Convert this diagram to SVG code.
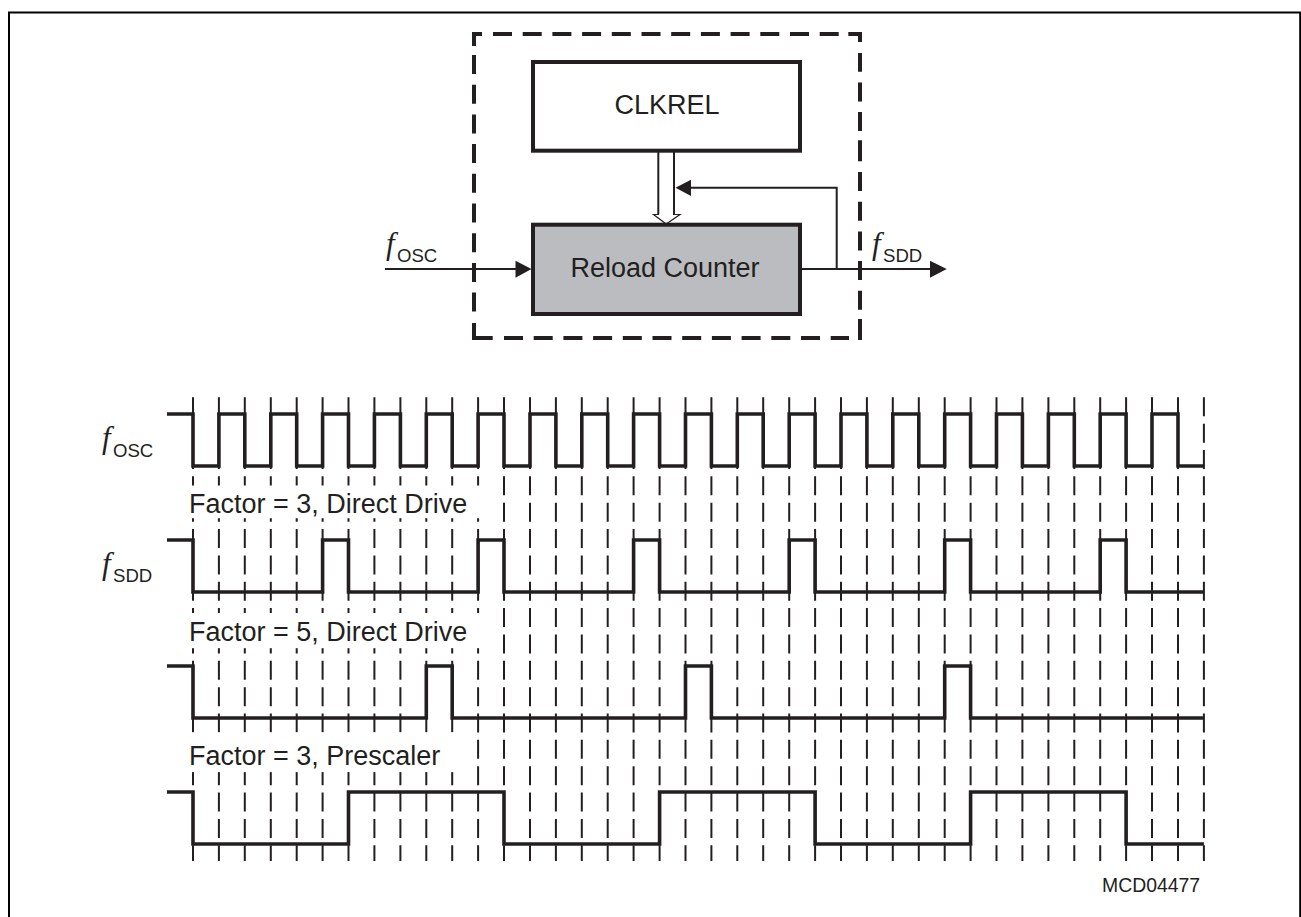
<svg xmlns="http://www.w3.org/2000/svg" width="1301" height="917" viewBox="0 0 1301 917">
<style>
text{font-family:"Liberation Sans",Arial,sans-serif;fill:#231f20}
.lbl{font-size:27px}
.sub{font-size:18.6px}
.f{font-family:"Liberation Serif","Times New Roman",serif;font-style:italic;font-size:31px}
.box{stroke:#231f20;stroke-width:4;fill:#fff}
.dash{fill:none;stroke:#231f20;stroke-width:4}
.wire{fill:none;stroke:#231f20;stroke-width:2}
.head{fill:#231f20;stroke:none}
.wave{fill:none;stroke:#231f20;stroke-width:3.6;stroke-linejoin:miter}
.grid{fill:none;stroke:#231f20;stroke-width:2;stroke-dasharray:19 7.35}
</style>
<rect width="1301" height="917" fill="#fff"/>
<path id="frame" d="M9,917V12.4H1300.2V917" fill="none" stroke="#000" stroke-width="2"/>
<g id="boundary">
<path class="dash" d="M474,46V34H482"/>
<path class="dash" stroke-dasharray="19 10.7" d="M493,34H839"/>
<path class="dash" d="M848.3,34H860V42"/>
<path class="dash" stroke-dasharray="19 10.7" d="M474,55V312"/>
<path class="dash" d="M474,323V338H492.7"/>
<path class="dash" stroke-dasharray="19 10.7" d="M504,338H849"/>
<path class="dash" stroke-dasharray="21 9.2 19 10.7 19 10.7 19 10.7 19 10.7 19 10.7" d="M860,340V53"/>
</g>
<g id="clkrel">
<rect class="box" x="533" y="62" width="267" height="88.7"/>
<text class="lbl" x="667" y="114" text-anchor="middle">CLKREL</text>
</g>
<g id="reload-counter">
<rect class="box" style="fill:#bbbcbf" x="533" y="224.7" width="267" height="89.3"/>
<text class="lbl" x="665" y="277" text-anchor="middle">Reload Counter</text>
</g>
<g id="connectors">
<path class="wire" d="M658.3,152V214.5"/>
<path class="wire" d="M674,152V214.5"/>
<path class="wire" style="stroke-width:1.2" d="M659,214.5H653.5L666.2,224L680,214.5H673"/>
<path class="wire" d="M690,187.7H836.7V269"/>
<path class="head" d="M675.5,187.7L691,179.8V196Z"/>
<path class="wire" d="M385,269H516"/>
<path class="head" d="M531.5,269L515.5,260.7V277.7Z"/>
<path class="wire" d="M802,269H931"/>
<path class="head" d="M946.7,269L930,260.7V277.7Z"/>
</g>
<g id="label-fosc-top"><text class="f" x="386" y="254">f</text><text class="sub" x="397" y="262">OSC</text></g>
<g id="label-fsdd-top"><text class="f" x="872" y="254">f</text><text class="sub" x="883" y="262">SDD</text></g>
<g id="timing">
<path class="grid" d="M193,397.3V861M218.9,397.3V861M244.8,397.3V861M270.8,397.3V861M296.7,397.3V861M322.6,397.3V861M348.5,397.3V861M374.4,397.3V861M400.4,397.3V861M426.3,397.3V861M452.2,397.3V861M478.1,397.3V861M504,397.3V861M530,397.3V861M555.9,397.3V861M581.8,397.3V861M607.7,397.3V861M633.6,397.3V861M659.6,397.3V861M685.5,397.3V861M711.4,397.3V861M737.3,397.3V861M763.2,397.3V861M789.2,397.3V861M815.1,397.3V861M841,397.3V861M866.9,397.3V861M892.8,397.3V861M918.8,397.3V861M944.7,397.3V861M970.6,397.3V861M996.5,397.3V861M1022.4,397.3V861M1048.4,397.3V861M1074.3,397.3V861M1100.2,397.3V861M1126.1,397.3V861M1152,397.3V861M1178,397.3V861M1203.9,397.3V861"/>
<rect x="186" y="485.5" width="300" height="32.7" fill="#fff"/>
<rect x="186" y="613" width="300" height="35.2" fill="#fff"/>
<rect x="186" y="732.3" width="274" height="39.8" fill="#fff"/>
<path class="wave" d="M167,414H193V466H218.9V414H244.8V466H270.8V414H296.7V466H322.6V414H348.5V466H374.4V414H400.4V466H426.3V414H452.2V466H478.1V414H504V466H530V414H555.9V466H581.8V414H607.7V466H633.6V414H659.6V466H685.5V414H711.4V466H737.3V414H763.2V466H789.2V414H815.1V466H841V414H866.9V466H892.8V414H918.8V466H944.7V414H970.6V466H996.5V414H1022.4V466H1048.4V414H1074.3V466H1100.2V414H1126.1V466H1152V414H1178V466H1203.9"/>
<path class="wave" d="M167,540H193V592H322.6V540H348.5V592H478.1V540H504V592H633.6V540H659.6V592H789.2V540H815.1V592H944.7V540H970.6V592H1100.2V540H1126.1V592H1203.9"/>
<path class="wave" d="M167,666H193V718H426.3V666H452.2V718H685.5V666H711.4V718H944.7V666H970.6V718H1203.9"/>
<path class="wave" d="M167,792H193V844H348.5V792H504V844H659.6V792H815.1V844H970.6V792H1126.1V844H1203.9"/>
<text class="lbl" x="189" y="513">Factor = 3, Direct Drive</text>
<text class="lbl" x="189" y="640.7">Factor = 5, Direct Drive</text>
<text class="lbl" x="189" y="765">Factor = 3, Prescaler</text>
<text x="1102" y="892" style="font-size:19.4px">MCD04477</text>
</g>
<g id="label-fosc-wave"><text class="f" x="102" y="448">f</text><text class="sub" x="113" y="456.7">OSC</text></g>
<g id="label-fsdd-wave"><text class="f" x="102" y="574">f</text><text class="sub" x="113" y="582.3">SDD</text></g>
</svg>
